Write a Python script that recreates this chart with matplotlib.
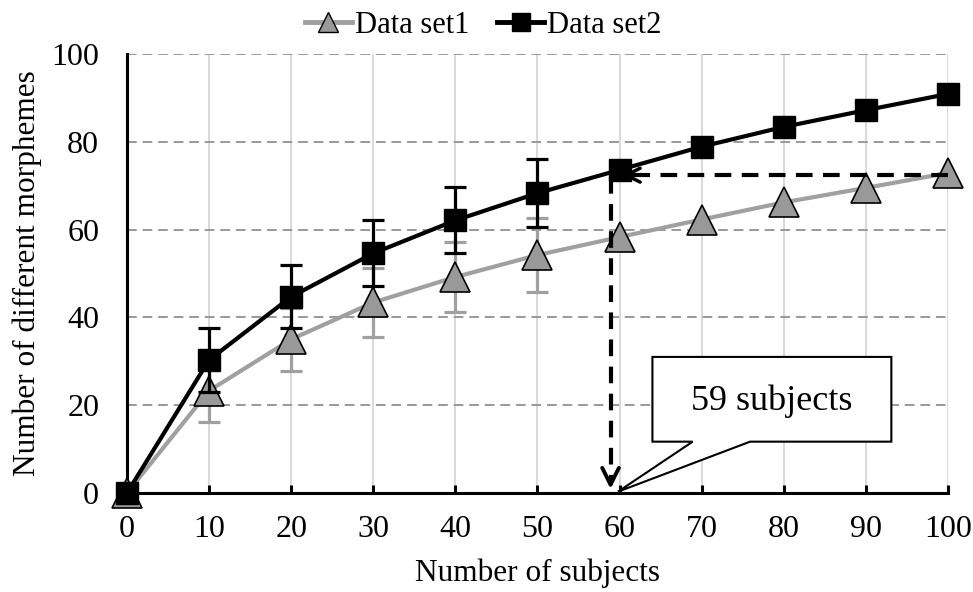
import matplotlib
matplotlib.use("Agg")
import matplotlib.pyplot as plt
from matplotlib.patches import Polygon
from matplotlib.lines import Line2D

plt.rcParams['font.family'] = ['Liberation Serif', 'DejaVu Serif']

subjects = [0, 10, 20, 30, 40, 50, 60, 70, 80, 90, 100]
set1 = [0, 23.3, 35.0, 43.4, 49.2, 54.2, 58.3, 62.3, 66.2, 69.5, 72.9]
set2 = [0, 30.3, 44.7, 54.6, 62.1, 68.3, 73.6, 78.9, 83.4, 87.2, 90.9]
err_x = [10, 20, 30, 40, 50]
set1_err = [7.1, 7.1, 7.85, 7.95, 8.4]
set2_err = [7.4, 7.2, 7.5, 7.5, 7.8]
set1_at_err = [23.3, 35.0, 43.4, 49.2, 54.2]
set2_at_err = [30.3, 44.7, 54.6, 62.1, 68.3]

gray = '#a0a0a0'

fig = plt.figure(figsize=(9.73, 5.92), dpi=100)
ax = fig.add_axes([0.1305, 0.1672, 0.8438, 0.7416])

ax.set_xlim(0, 100)
ax.set_ylim(0, 100)
ax.set_xticks(range(0, 101, 10))
ax.set_yticks(range(0, 101, 20))

# grid
for x in range(10, 101, 10):
    ax.axvline(x, color='#d9d9d9', lw=1.4, zorder=0)
for y in range(20, 101, 20):
    ax.axhline(y, color='#999999', lw=1.4, ls=(0, (5, 3)), zorder=0)

ax.errorbar(err_x, set1_at_err, yerr=set1_err, fmt='none', ecolor=gray,
            elinewidth=2.3, capsize=8, capthick=2.3, zorder=2)
ax.plot(subjects, set1, color=gray, lw=3, marker='^', markersize=21,
        markerfacecolor='#999999', markeredgecolor='black', markeredgewidth=1.2,
        zorder=3, clip_on=False)
ax.errorbar(err_x, set2_at_err, yerr=set2_err, fmt='none', ecolor='black',
            elinewidth=2.3, capsize=8, capthick=2.3, zorder=4)
ax.plot(subjects, set2, color='black', lw=3, marker='s', markersize=16.5,
        zorder=5, clip_on=False)

# dashed guide lines
ax.plot([100, 61.5], [72.4, 72.4], color='black', lw=3, ls=(0, (4, 2.5)), zorder=6)
ax.annotate('', xy=(60.0, 72.4), xytext=(62.0, 72.4),
            arrowprops=dict(arrowstyle='->', color='black', lw=2.5,
                            mutation_scale=25), zorder=6)
ax.plot([58.9, 58.9], [72.0, 3.0], color='black', lw=3, ls=(0, (4, 2.5)), zorder=6)
ax.annotate('', xy=(58.9, 0.3), xytext=(58.9, 4.0),
            arrowprops=dict(arrowstyle='->', color='black', lw=2.8,
                            mutation_scale=30), zorder=6)

# callout
callout = Polygon([(64.0, 31.0), (93.1, 31.0), (93.1, 11.7), (75.9, 11.7),
                   (59.8, 0.3), (68.9, 11.7), (64.0, 11.7)],
                  closed=True, facecolor='white', edgecolor='black', lw=1.5,
                  zorder=7, clip_on=False)
ax.add_patch(callout)
ax.text(78.5, 21.0, '59 subjects', ha='center', va='center', fontsize=26, zorder=8)

for s in ['top', 'right']:
    ax.spines[s].set_visible(False)
for s in ['left', 'bottom']:
    ax.spines[s].set_linewidth(2.2)
    ax.spines[s].set_zorder(1)
ax.tick_params(axis='x', direction='in', length=6, width=2.2, pad=16, labelsize=23)
ax.tick_params(axis='y', length=0, pad=20, labelsize=23)

ax.set_xlabel('Number of subjects', fontsize=22.5, labelpad=10)
ax.set_ylabel('Number of different morphemes', fontsize=22.5, labelpad=7)

handles = [
    Line2D([], [], color=gray, lw=3.5, marker='^', markersize=14,
           markerfacecolor='#999999', markeredgecolor='black', markeredgewidth=1),
    Line2D([], [], color='black', lw=3.5, marker='s', markersize=13),
]
ax.legend(handles, ['Data set1', 'Data set2'], loc='center', bbox_to_anchor=(0.434, 1.066),
          ncol=2, frameon=False, fontsize=22, handlelength=1.55, handletextpad=0.1,
          columnspacing=0.9, borderpad=0)

fig.savefig('out.png', dpi=100)
